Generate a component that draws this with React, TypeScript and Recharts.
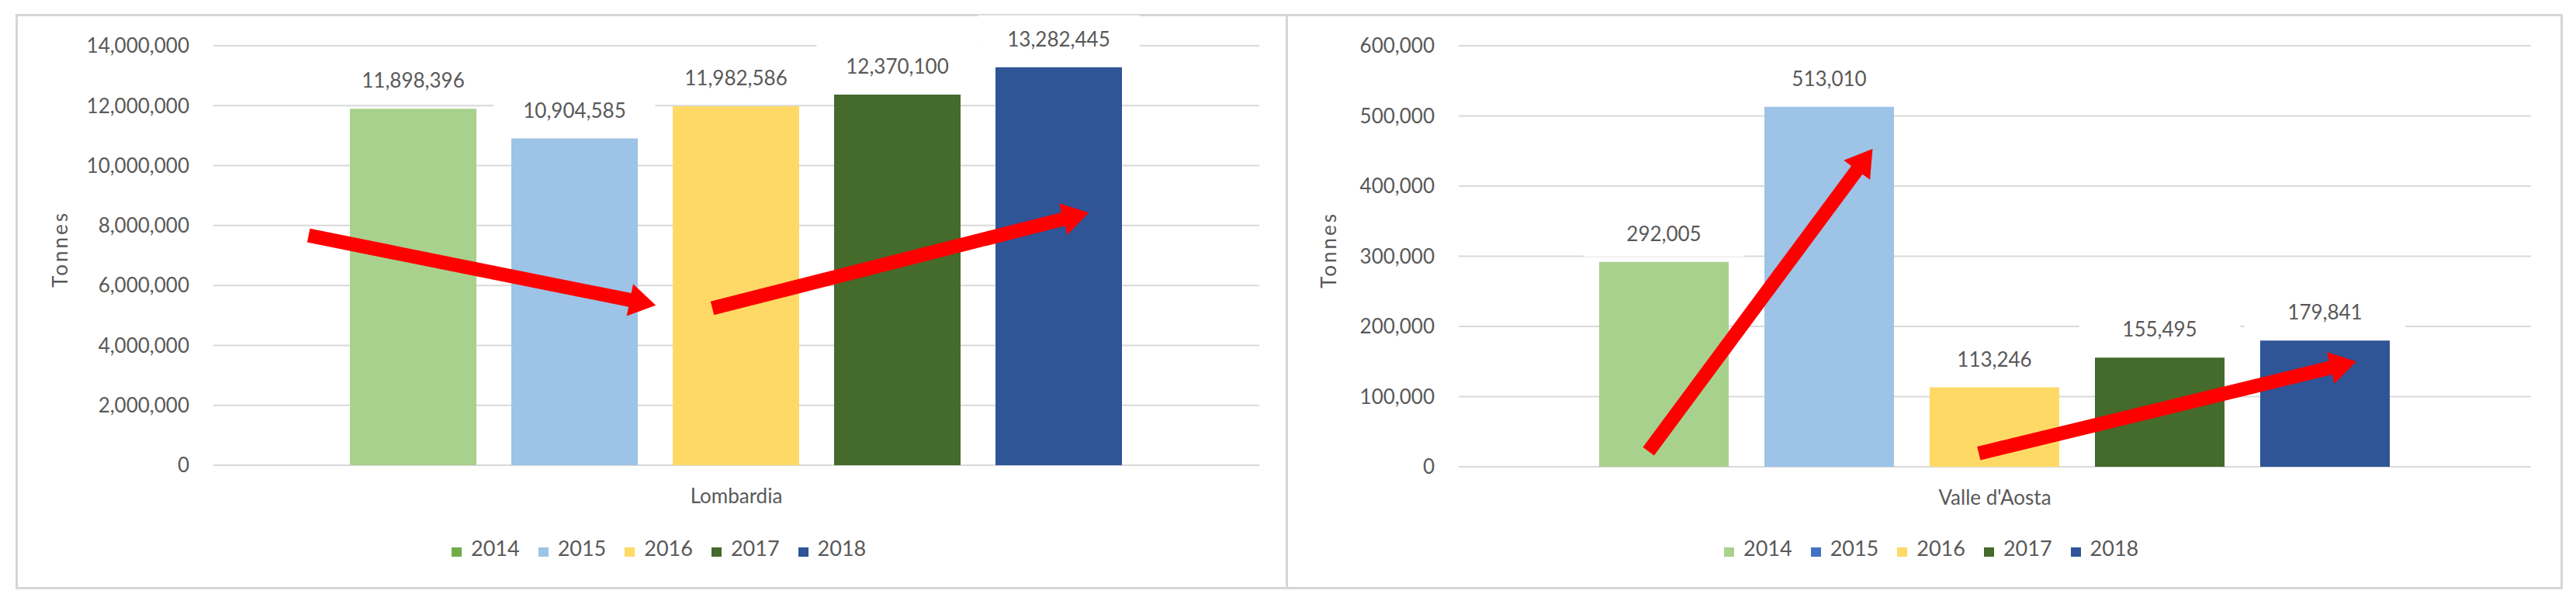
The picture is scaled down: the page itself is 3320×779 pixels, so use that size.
import React from 'react';
import { BarChart, Bar, XAxis, YAxis, CartesianGrid, LabelList } from 'recharts';

const years = ['2014', '2015', '2016', '2017', '2018'];
const lombardiaValues = [11898396, 10904585, 11982586, 12370100, 13282445];
const valleValues = [292005, 513010, 113246, 155495, 179841];
const lombardiaTicks = [0, 2000000, 4000000, 6000000, 8000000, 10000000, 12000000, 14000000];
const valleTicks = [0, 100000, 200000, 300000, 400000, 500000, 600000];
const barColors = ['#A9D18E', '#9DC3E6', '#FFD966', '#446A2C', '#2F5597'];
// the legend swatches in the source do not all match the bars
const lombardiaLegendColors = ['#70AD47', '#9DC3E6', '#FFD966', '#446A2C', '#2F5597'];
const valleLegendColors = ['#A9D18E', '#4472C4', '#FFD966', '#446A2C', '#2F5597'];

// red annotation arrows: x as share of plot width, y as value
const lombardiaArrows = [
  { from: [0.091, 7670000], to: [0.423, 5340000] },
  { from: [0.477, 5240000], to: [0.837, 8430000] },
];
const valleArrows = [
  { from: [0.177, 22000], to: [0.386, 453000] },
  { from: [0.485, 19000], to: [0.837, 150000] },
];

const FONT = 'Lato, "Open Sans", sans-serif';
const TEXT = '#595959';
const GRID = '#D9D9D9';
const CHART_H = 779;
const Y_AXIS_W = 150;
const X_AXIS_H = 30;

const fmt = (v: number) => Number(v).toLocaleString('en-US');

const toRows = (name: string, values: number[]) => {
  const row: Record<string, string | number> = { name };
  years.forEach((y, i) => {
    row['y' + y] = values[i];
  });
  return [row];
};

const ValueLabel = (props: any) => {
  const { x, y, width, value } = props;
  const cx = Number(x) + Number(width) / 2;
  const cy = Number(y) - 37;
  return (
    <g>
      <rect x={cx - 104} y={cy - 30} width={208} height={60} fill="#fff" />
      <text x={cx} y={cy} textAnchor="middle" dominantBaseline="central" fontSize={26} fill={TEXT} fontFamily={FONT}>
        {fmt(value)}
      </text>
    </g>
  );
};

function arrowPoints(x1: number, y1: number, x2: number, y2: number) {
  const len = Math.hypot(x2 - x1, y2 - y1) || 1;
  const ux = (x2 - x1) / len;
  const uy = (y2 - y1) / len;
  const px = -uy;
  const py = ux;
  const shaft = 9;
  const head = 21;
  const headLen = 34;
  const bx = x2 - ux * headLen;
  const by = y2 - uy * headLen;
  const pts = [
    [x1 + px * shaft, y1 + py * shaft],
    [bx + px * shaft, by + py * shaft],
    [bx + px * head, by + py * head],
    [x2, y2],
    [bx - px * head, by - py * head],
    [bx - px * shaft, by - py * shaft],
    [x1 - px * shaft, y1 - py * shaft],
  ];
  return pts.map((p) => p.join(',')).join(' ');
}

interface PanelChartProps {
  category: string;
  values: number[];
  ticks: number[];
  arrows: { from: number[]; to: number[] }[];
  left: number;
  width: number;
  margin: { top: number; right: number; bottom: number; left: number };
  tonnesX: number;
  barGap: number;
  categoryGap: number;
}

function PanelChart({ category, values, ticks, arrows, left, width, margin, tonnesX, barGap, categoryGap }: PanelChartProps) {
  const data = toRows(category, values);
  const yMax = ticks[ticks.length - 1];
  // plot box, same numbers the chart margins produce
  const plotLeft = margin.left + Y_AXIS_W;
  const plotRight = width - margin.right;
  const plotTop = margin.top;
  const plotBottom = CHART_H - margin.bottom - X_AXIS_H;
  const px = (f: number) => plotLeft + f * (plotRight - plotLeft);
  const py = (v: number) => plotBottom - (v / yMax) * (plotBottom - plotTop);

  const renderTonnes = (props: any) => {
    const vb = props.viewBox || {};
    const cy = Number(vb.y) + Number(vb.height) / 2 - 8;
    return (
      <text
        x={tonnesX}
        y={cy}
        transform={`rotate(-90, ${tonnesX}, ${cy})`}
        textAnchor="middle"
        dominantBaseline="central"
        fontSize={26}
        letterSpacing={3}
        fill={TEXT}
        fontFamily={FONT}
      >
        Tonnes
      </text>
    );
  };
  return (
    <div style={{ position: 'absolute', left, top: 0, width, height: CHART_H }}>
      <BarChart width={width} height={CHART_H} data={data} margin={margin} barGap={barGap} barCategoryGap={categoryGap}>
        <CartesianGrid vertical={false} stroke={GRID} strokeWidth={2} />
        <XAxis
          dataKey="name"
          height={X_AXIS_H}
          axisLine={false}
          tickLine={false}
          tickSize={0}
          tickMargin={31}
          tick={{ fill: TEXT, fontSize: 26, fontFamily: FONT }}
        />
        <YAxis
          width={Y_AXIS_W}
          domain={[ticks[0], yMax]}
          ticks={ticks}
          interval={0}
          axisLine={false}
          tickLine={false}
          tickSize={0}
          tickMargin={31}
          tickFormatter={fmt}
          tick={{ fill: TEXT, fontSize: 26, fontFamily: FONT }}
          label={renderTonnes}
        />
        {years.map((y, i) => (
          <Bar key={y} dataKey={'y' + y} name={y} fill={barColors[i]} isAnimationActive={false}>
            <LabelList dataKey={'y' + y} content={ValueLabel} />
          </Bar>
        ))}
      </BarChart>
      <svg width={width} height={CHART_H} style={{ position: 'absolute', left: 0, top: 0, pointerEvents: 'none' }}>
        {arrows.map((a, i) => (
          <polygon key={i} points={arrowPoints(px(a.from[0]), py(a.from[1]), px(a.to[0]), py(a.to[1]))} fill="#FF0000" />
        ))}
      </svg>
    </div>
  );
}

function YearLegend({ left, colors }: { left: number; colors: string[] }) {
  return (
    <div style={{ position: 'absolute', left, top: 692, display: 'flex', alignItems: 'flex-start', fontFamily: FONT, fontSize: 27, lineHeight: '30px', color: TEXT }}>
      {years.map((y, i) => (
        <div key={y} style={{ display: 'flex', alignItems: 'flex-start', marginRight: 24 }}>
          <div style={{ width: 13, height: 12, marginTop: 14, marginRight: 12, background: colors[i] }} />
          <span>{y}</span>
        </div>
      ))}
    </div>
  );
}

export default function App() {
  return (
    <div style={{ position: 'absolute', left: 0, top: 0, width: 3320, height: 779, background: '#fff', overflow: 'hidden' }}>
      <div style={{ position: 'absolute', left: 20, top: 18, width: 1640, height: 742, boxSizing: 'border-box', border: '3px solid #D6D6D6' }} />
      <div style={{ position: 'absolute', left: 1657, top: 18, width: 1646, height: 742, boxSizing: 'border-box', border: '3px solid #D6D6D6' }} />
      <PanelChart
        category="Lombardia"
        values={lombardiaValues}
        ticks={lombardiaTicks}
        arrows={lombardiaArrows}
        left={0}
        width={1659}
        margin={{ top: 59, right: 36, left: 125, bottom: 149 }}
        tonnesX={77}
        barGap={45}
        categoryGap={176}
      />
      <PanelChart
        category="Valle d'Aosta"
        values={valleValues}
        ticks={valleTicks}
        arrows={valleArrows}
        left={1659}
        width={1661}
        margin={{ top: 59, right: 58, left: 71, bottom: 147 }}
        tonnesX={53}
        barGap={46}
        categoryGap={181}
      />
      <YearLegend left={582} colors={lombardiaLegendColors} />
      <YearLegend left={2222} colors={valleLegendColors} />
    </div>
  );
}
